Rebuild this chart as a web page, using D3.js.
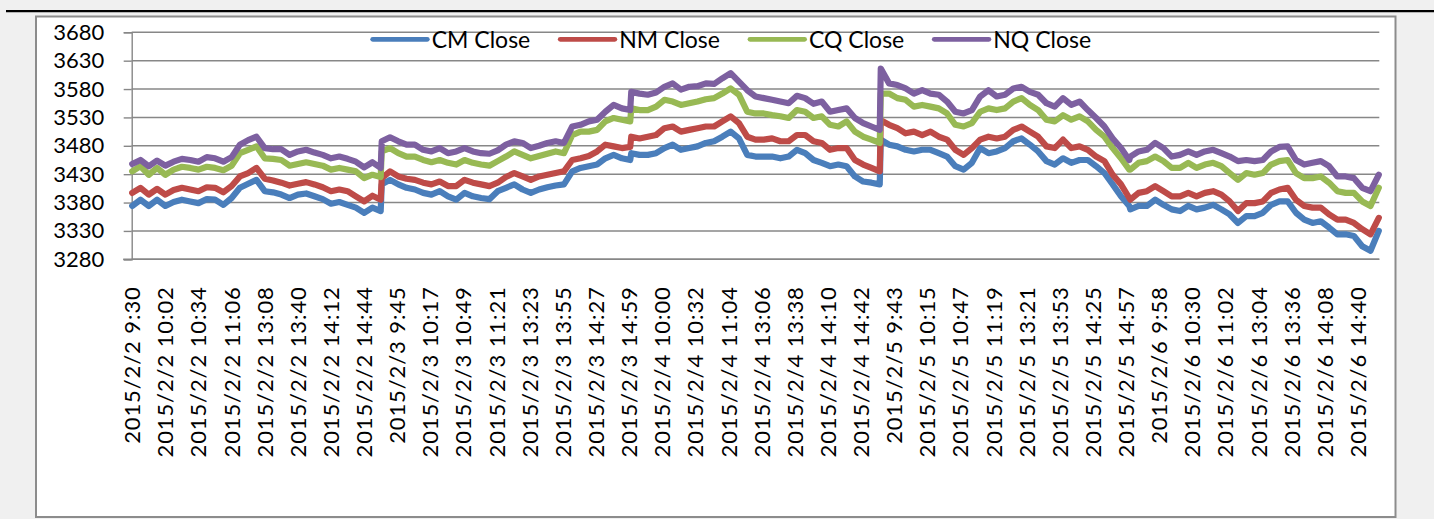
<!DOCTYPE html>
<html>
<head>
<meta charset="utf-8">
<script src="https://cdn.jsdelivr.net/npm/d3@7"></script>
<style>
  html, body { margin: 0; padding: 0; background: #f0f0f0; }
  svg { display: block; }
  text { font-family: Lato, "Liberation Sans", sans-serif; fill: #000; }
</style>
</head>
<body>
<svg id="chart" width="1434" height="519"></svg>
<script>
// ---- data -------------------------------------------------------------
const tradingDays = ["2015/2/2", "2015/2/3", "2015/2/4", "2015/2/5", "2015/2/6"];

// clock times of the sampled closes inside each trading day
const sampleClock = ["9:30", "9:38", "9:46", "9:54", "10:02", "10:10", "10:18", "10:26",
  "10:34", "10:42", "10:50", "10:58", "11:06", "11:14", "11:22", "11:30", "13:08", "13:16",
  "13:24", "13:32", "13:40", "13:48", "13:56", "14:04", "14:12", "14:20", "14:28", "14:36",
  "14:44", "14:52", "15:00"];

const tickLabels = ["2015/2/2 9:30", "2015/2/2 10:02", "2015/2/2 10:34", "2015/2/2 11:06",
  "2015/2/2 13:08", "2015/2/2 13:40", "2015/2/2 14:12", "2015/2/2 14:44", "2015/2/3 9:45",
  "2015/2/3 10:17", "2015/2/3 10:49", "2015/2/3 11:21", "2015/2/3 13:23", "2015/2/3 13:55",
  "2015/2/3 14:27", "2015/2/3 14:59", "2015/2/4 10:00", "2015/2/4 10:32", "2015/2/4 11:04",
  "2015/2/4 13:06", "2015/2/4 13:38", "2015/2/4 14:10", "2015/2/4 14:42", "2015/2/5 9:43",
  "2015/2/5 10:15", "2015/2/5 10:47", "2015/2/5 11:19", "2015/2/5 13:21", "2015/2/5 13:53",
  "2015/2/5 14:25", "2015/2/5 14:57", "2015/2/6 9:58", "2015/2/6 10:30", "2015/2/6 11:02",
  "2015/2/6 13:04", "2015/2/6 13:36", "2015/2/6 14:08", "2015/2/6 14:40"];

const yTicks = [3280, 3330, 3380, 3430, 3480, 3530, 3580, 3630, 3680];

const seriesNames = ["CM Close", "NM Close", "CQ Close", "NQ Close"];
const seriesColors = ["#4a7ebb", "#be4b48", "#98b954", "#7d60a0"];

const cmClose = [
  3374, 3385, 3374, 3385, 3374, 3381, 3385, 3382, 3379, 3386, 3385, 3376, 3388, 3406, 3413, 3420,
  3400, 3398, 3394, 3388, 3394, 3396, 3391, 3386, 3378, 3381, 3376, 3371, 3362, 3371, 3365,
  3412, 3420, 3412, 3406, 3403, 3397, 3394, 3400, 3391, 3385, 3397, 3391, 3388, 3386, 3400, 3406,
  3412, 3403, 3397, 3403, 3407, 3410, 3412, 3435, 3441, 3444, 3447, 3458, 3464, 3458, 3455,
  3467, 3464, 3464, 3467, 3476, 3482, 3473, 3476, 3479, 3485, 3488, 3496, 3505, 3493, 3464, 3461,
  3461, 3461, 3458, 3461, 3473, 3467, 3455, 3450, 3444, 3447, 3444, 3426, 3417, 3415, 3412,
  3491, 3482, 3479, 3473, 3470, 3473, 3473, 3467, 3461, 3444, 3438, 3450, 3476, 3467, 3470, 3476,
  3488, 3493, 3482, 3470, 3453, 3447, 3458, 3450, 3455, 3455, 3444, 3432, 3412, 3391, 3374,
  3368, 3374, 3374, 3385, 3376, 3368, 3365, 3374, 3368, 3371, 3376, 3368, 3359, 3344, 3356, 3356,
  3362, 3376, 3382, 3382, 3362, 3350, 3344, 3347, 3336, 3324, 3324, 3321, 3303, 3295, 3330];

const nmClose = [
  3397, 3406, 3394, 3404, 3394, 3402, 3406, 3403, 3400, 3407, 3406, 3398, 3409, 3426, 3432, 3441,
  3422, 3419, 3415, 3410, 3413, 3416, 3412, 3407, 3400, 3403, 3400, 3391, 3382, 3392, 3385,
  3423, 3435, 3426, 3422, 3420, 3415, 3412, 3417, 3409, 3409, 3420, 3415, 3412, 3409, 3415, 3425,
  3432, 3426, 3420, 3426, 3429, 3432, 3435, 3455, 3458, 3462, 3470, 3482, 3479, 3476, 3478,
  3496, 3493, 3496, 3499, 3511, 3514, 3505, 3508, 3511, 3514, 3514, 3523, 3532, 3520, 3496, 3491,
  3491, 3493, 3488, 3488, 3499, 3499, 3488, 3485, 3473, 3476, 3476, 3455, 3447, 3441, 3435,
  3525, 3517, 3511, 3502, 3505, 3499, 3505, 3496, 3491, 3473, 3464, 3476, 3491, 3496, 3493, 3496,
  3508, 3514, 3505, 3496, 3479, 3476, 3491, 3476, 3479, 3473, 3461, 3453, 3429, 3412, 3388,
  3385, 3397, 3400, 3409, 3400, 3391, 3391, 3397, 3391, 3397, 3400, 3394, 3382, 3365, 3379, 3379,
  3382, 3397, 3403, 3406, 3385, 3374, 3371, 3371, 3359, 3350, 3350, 3344, 3333, 3324, 3353];

const cqClose = [
  3435, 3444, 3429, 3441, 3429, 3438, 3443, 3441, 3438, 3443, 3441, 3437, 3445, 3467, 3473, 3479,
  3458, 3457, 3455, 3445, 3448, 3451, 3448, 3445, 3438, 3441, 3438, 3435, 3423, 3429, 3425,
  3470, 3476, 3467, 3461, 3461, 3455, 3451, 3455, 3450, 3447, 3455, 3450, 3447, 3445, 3453, 3461,
  3470, 3464, 3458, 3462, 3466, 3470, 3467, 3499, 3505, 3505, 3508, 3523, 3529, 3526, 3523,
  3546, 3543, 3543, 3549, 3561, 3558, 3552, 3555, 3558, 3562, 3564, 3572, 3581, 3570, 3540, 3537,
  3537, 3534, 3532, 3529, 3543, 3540, 3529, 3532, 3517, 3514, 3523, 3505, 3496, 3491, 3485,
  3572, 3572, 3564, 3561, 3549, 3552, 3549, 3546, 3537, 3517, 3514, 3520, 3540, 3546, 3543, 3546,
  3558, 3564, 3552, 3543, 3526, 3523, 3534, 3526, 3532, 3523, 3508, 3496, 3476, 3458, 3438,
  3438, 3450, 3453, 3461, 3453, 3441, 3441, 3450, 3441, 3447, 3450, 3444, 3432, 3420, 3432, 3429,
  3432, 3447, 3453, 3455, 3432, 3423, 3423, 3426, 3415, 3400, 3397, 3397, 3382, 3374, 3406];

const nqClose = [
  3448, 3455, 3444, 3454, 3445, 3452, 3457, 3455, 3452, 3460, 3458, 3452, 3460, 3482, 3490, 3496,
  3476, 3474, 3474, 3464, 3470, 3473, 3468, 3464, 3458, 3461, 3457, 3452, 3442, 3451, 3441,
  3488, 3495, 3488, 3482, 3482, 3473, 3470, 3476, 3467, 3470, 3476, 3470, 3467, 3466, 3472, 3482,
  3488, 3485, 3476, 3480, 3485, 3488, 3485, 3514, 3517, 3523, 3526, 3540, 3552, 3546, 3543,
  3575, 3572, 3570, 3574, 3584, 3590, 3579, 3584, 3585, 3590, 3589, 3599, 3608, 3593, 3578, 3567,
  3564, 3561, 3558, 3555, 3568, 3564, 3554, 3558, 3540, 3543, 3546, 3529, 3520, 3514, 3508,
  3616, 3590, 3587, 3581, 3572, 3578, 3572, 3570, 3558, 3540, 3537, 3543, 3567, 3578, 3567, 3570,
  3581, 3584, 3575, 3570, 3555, 3549, 3564, 3552, 3558, 3543, 3529, 3514, 3493, 3476, 3455,
  3461, 3470, 3473, 3485, 3476, 3461, 3464, 3470, 3464, 3470, 3473, 3467, 3461, 3453, 3455, 3453,
  3455, 3470, 3478, 3479, 3455, 3447, 3450, 3453, 3444, 3426, 3426, 3423, 3406, 3400, 3429];

const seriesValues = [cmClose, nmClose, cqClose, nqClose];

// ---- categories: every trading minute, 9:30–11:30 and 13:01–15:00 ---------
function clockText(m) { return Math.floor(m / 60) + ":" + String(m % 60).padStart(2, "0"); }
const sessionClock = [];
for (let m = 9 * 60 + 30; m <= 11 * 60 + 30; m++) sessionClock.push(clockText(m));
for (let m = 13 * 60 + 1; m <= 15 * 60; m++) sessionClock.push(clockText(m));
const categories = tradingDays.flatMap(d => sessionClock.map(c => d + " " + c));

// ---- layout -------------------------------------------------------------
const W = 1434, H = 519;
const plot = { left: 131.7, right: 1379.3, top: 32.3, bottom: 259.3 };
const svg = d3.select("#chart");

// page rule and chart frame
svg.append("line").attr("x1", 6).attr("x2", W).attr("y1", 11.1).attr("y2", 11.1)
  .attr("stroke", "#000").attr("stroke-width", 2.3);
svg.append("rect").attr("x", 36).attr("y", 16.5).attr("width", 1359.5).attr("height", 500.5)
  .attr("fill", "#fff").attr("stroke", "#8c8c8c").attr("stroke-width", 2);

const x = d3.scaleBand().domain(categories).range([plot.left, plot.right]).padding(0);
const y = d3.scaleLinear().domain([3280, 3680]).range([plot.bottom, plot.top]);
const xc = c => x(c) + x.bandwidth() / 2;

// horizontal gridlines
svg.append("g").selectAll("line").data(yTicks).join("line")
  .attr("x1", plot.left).attr("x2", plot.right)
  .attr("y1", d => y(d)).attr("y2", d => y(d))
  .attr("stroke", "#878787").attr("stroke-width", 1.4);

// value axis
const yAxis = svg.append("g").attr("transform", `translate(${plot.left},0)`)
  .call(d3.axisLeft(y).tickValues(yTicks).tickSize(8).tickPadding(19.5).tickFormat(d3.format("d")));
yAxis.select(".domain").attr("stroke", "#878787").attr("stroke-width", 1.4);
yAxis.selectAll(".tick line").attr("stroke", "#878787").attr("stroke-width", 1.4);
yAxis.selectAll("text").attr("font-size", 22).attr("font-family", "Lato, sans-serif").attr("fill", "#000");

// category axis
const xAxis = svg.append("g").attr("transform", `translate(0,${plot.bottom})`)
  .call(d3.axisBottom(x).tickValues(tickLabels.map(t => categories[categories.indexOf(t)])).tickSize(0));
xAxis.select(".domain").attr("d", `M${plot.left - 8.5},0H${plot.right}`)
  .attr("stroke", "#878787").attr("stroke-width", 1.4);
xAxis.selectAll("text")
  .attr("font-size", 22).attr("font-family", "Lato, sans-serif").attr("fill", "#000")
  .attr("letter-spacing", 0.9)
  .attr("text-anchor", "end")
  .attr("transform", "rotate(-90)")
  .attr("x", -27).attr("y", 0).attr("dy", "0.36em");

// series lines
const line = d3.line()
  .x((v, j) => xc(tradingDays[Math.floor(j / sampleClock.length)] + " " + sampleClock[j % sampleClock.length]))
  .y(v => y(v));
svg.append("g").selectAll("path").data(seriesValues).join("path")
  .attr("d", d => line(d))
  .attr("fill", "none")
  .attr("stroke", (d, i) => seriesColors[i])
  .attr("stroke-width", 6.2)
  .attr("stroke-linejoin", "round")
  .attr("stroke-linecap", "round");

// legend
const legend = svg.append("g");
let lx = 372.7;
seriesNames.forEach((name, i) => {
  legend.append("line").attr("x1", lx).attr("x2", lx + 54.6).attr("y1", 39.3).attr("y2", 39.3)
    .attr("stroke", seriesColors[i]).attr("stroke-width", 4.8).attr("stroke-linecap", "round");
  const t = legend.append("text").attr("x", lx + 59).attr("y", 39.3).attr("dy", "0.36em")
    .attr("font-size", 23).text(name);
  lx = lx + 59 + t.node().getComputedTextLength() + 30;
});
</script>
</body>
</html>
